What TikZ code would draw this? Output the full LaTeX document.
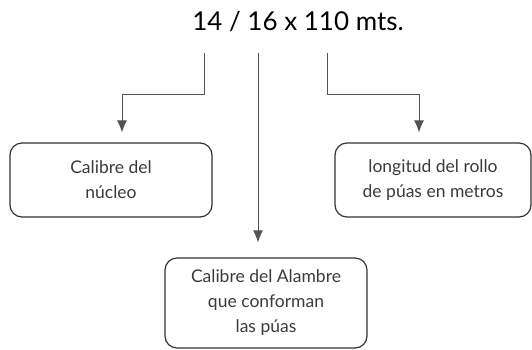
\documentclass[tikz,border=0pt]{standalone}
\usepackage{fontspec}
\setmainfont{Lato}
\usetikzlibrary{arrows.meta}
\definecolor{ink}{HTML}{333333}
\definecolor{txt}{HTML}{3A3A3A}
\begin{document}
\begin{tikzpicture}[x=1pt,y=-1pt,
  box/.style={draw=ink, line width=1.2pt, rounded corners=12pt, align=center,
    text=txt, font=\fontsize{17.5}{25}\selectfont, inner sep=0pt},
  conn/.style={draw=ink!85, line width=1pt},
  arr/.style={conn, -{Latex[length=12pt,width=10pt]}}]
\useasboundingbox (0,0) rectangle (532,349);
\node[text=black, font=\fontsize{26}{30}\selectfont] (title) at (298,22) {14 / 16 x 110 mts.};
\node[box, minimum width=202pt, minimum height=74pt] (left) at (111,180) {Calibre del\\núcleo};
\node[box, minimum width=196pt, minimum height=74pt] (right) at (433,180) {longitud del rollo\\de púas en metros};
\node[box, minimum width=202pt, minimum height=90pt] (bottom) at (266,303) {Calibre del Alambre\\que conforman\\las púas};
\coordinate (l0) at (204,53);
\coordinate (m0) at (258,53);
\coordinate (r0) at (327,53);
\draw[arr] (l0) -- (204,94) -- (122,94) -- ([yshift=10pt]left.north -| 122,0);
\draw[arr] (m0) -- ([yshift=15pt]bottom.north -| m0);
\draw[arr] (r0) -- (327,94) -- (419,94) -- ([yshift=10pt]right.north -| 419,0);
\end{tikzpicture}
\end{document}
